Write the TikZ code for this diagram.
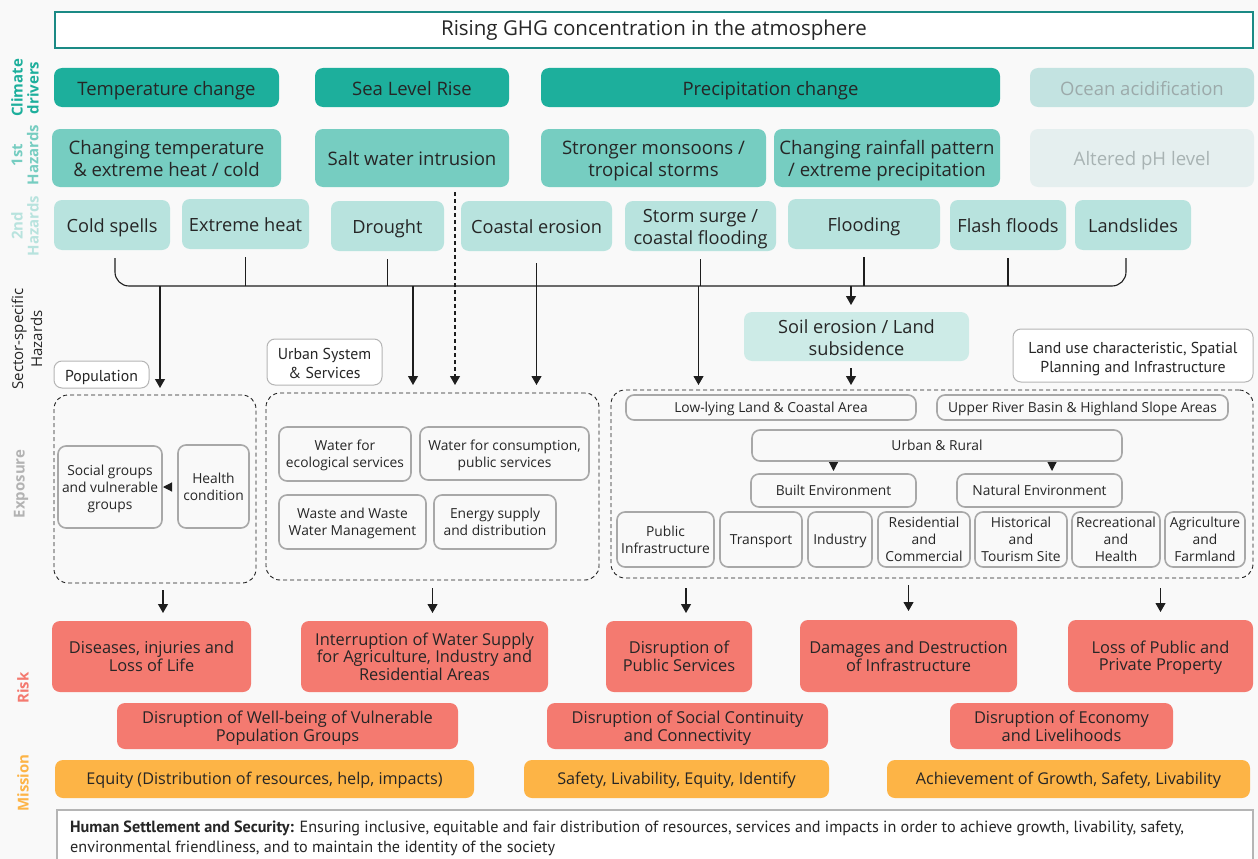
\documentclass[tikz,border=0pt]{standalone}
\usepackage{fontspec}
\setmainfont{Open Sans}
\newfontfamily\condf{PT Sans}
\usetikzlibrary{arrows.meta,calc}
\definecolor{bgc}{HTML}{F9F9F9}
\definecolor{txt}{HTML}{262626}
\definecolor{drv}{HTML}{1DAF9C}
\definecolor{hza}{HTML}{76CDC1}
\definecolor{hzb}{HTML}{B8E3DE}
\definecolor{soilc}{HTML}{CDEBE7}
\definecolor{ocean}{HTML}{C3E3E1}
\definecolor{oceantxt}{HTML}{9CAAAA}
\definecolor{phc}{HTML}{E5EFEF}
\definecolor{phtxt}{HTML}{A8B3B3}
\definecolor{titleb}{HTML}{1B8A85}
\definecolor{riskc}{HTML}{F47A70}
\definecolor{misc}{HTML}{FDB446}
\definecolor{inbd}{HTML}{A8A8A8}
\definecolor{lblbd}{HTML}{B5B5B5}
\definecolor{expc}{HTML}{B3B3B3}
\definecolor{linec}{HTML}{1E1E1E}
\newcommand\bxraise{0pt}
\newcommand\bx[7]{\node[#2, minimum width={(#5)-(#3)}, minimum height={(#6)-(#4)}] (#1) at ({((#3)+(#5))/2},{((#4)+(#6))/2}) {\raisebox{-\bxraise}[\height][\depth]{\begin{tabular}{@{}c@{}}#7\end{tabular}}};}
\begin{document}
\begin{tikzpicture}[x=1pt,y=-1pt,
  base/.style={rounded corners=8pt, inner sep=0pt, outer sep=0pt, text=txt},
  drvbox/.style={base, fill=drv, font=\fontsize{18.5}{22}\selectfont\def\bxraise{3.5pt}},
  hzabox/.style={base, fill=hza, font=\fontsize{18.6}{22}\selectfont\def\bxraise{3.5pt}},
  hzbbox/.style={base, fill=hzb, font=\fontsize{18.2}{22}\selectfont\def\bxraise{3.5pt}},
  lblbox/.style={base, draw=lblbd, line width=1pt, fill=white, font=\condf\fontsize{15.8}{19}\selectfont\def\bxraise{3.5pt}},
  inbox/.style={base, draw=inbd, line width=1.6pt, fill=bgc, font=\fontsize{13.8}{17}\selectfont\def\bxraise{2pt}},
  grpbox/.style={inner sep=0pt, outer sep=0pt, draw=linec, line width=0.9pt, dash pattern=on 4pt off 3pt, rounded corners=14pt},
  riskbox/.style={base, fill=riskc, font=\fontsize{16.4}{17.2}\selectfont\def\bxraise{2.5pt}},
  misbox/.style={base, fill=misc, font=\fontsize{16.2}{18}\selectfont\def\bxraise{2pt}},
  side/.style={rotate=90, align=center, font=\bfseries\fontsize{15}{16}\selectfont},
  conn/.style={draw=linec, line width=1.1pt},
  arr/.style={conn, -{Triangle[length=9pt,width=10pt]}},
  tri/.style={conn, -{Triangle[length=9pt,width=9pt]}}
]
\useasboundingbox (0,0) rectangle (1258,859);
\clip (0,0) rectangle (1258,859);
\fill[bgc] (0,0) rectangle (1258,859);

% title
\bx{title}{base, rounded corners=0pt, draw=titleb, line width=2pt, fill=white, font=\fontsize{20.5}{24}\selectfont\def\bxraise{1pt}}{55}{12}{1253}{48}{Rising GHG concentration in the atmosphere}

% side labels
\node[side, text=drv] (sl1) at (25,88) {Climate\\drivers};
\node[side, text=hza] (sl2) at (25,155) {1st\\Hazards};
\node[side, text=hzb] (sl3) at (25,226) {2nd\\Hazards};
\node[side, font=\fontsize{15}{19}\selectfont, text=txt] (sl4) at (27,339) {Sector-specific\\Hazards};
\node[side, text=expc] (sl5) at (21,484) {Exposure};
\node[side, text=riskc] (sl6) at (23,688) {Risk};
\node[side, text=misc] (sl7) at (23,783) {Mission};

% climate drivers
\bx{d1}{drvbox}{54}{68}{279}{107}{Temperature change}
\bx{d2}{drvbox}{315}{68}{509}{107}{Sea Level Rise}
\bx{d3}{drvbox}{541}{68}{1000}{107}{Precipitation change}
\bx{d4}{drvbox, fill=ocean, text=oceantxt}{1030}{68}{1254}{107}{Ocean acidification}

% 1st hazards
\bx{h1}{hzabox}{52}{129}{281}{187}{Changing temperature\\\& extreme heat / cold}
\bx{h2}{hzabox}{315}{129}{509}{187}{Salt water intrusion}
\bx{h3}{hzabox}{541}{129}{766}{187}{Stronger monsoons /\\tropical storms}
\bx{h4}{hzabox}{774}{129}{1000}{187}{Changing rainfall pattern\\/ extreme precipitation}
\bx{h5}{hzabox, fill=phc, text=phtxt}{1030}{129}{1254}{187}{Altered pH level}

% 2nd hazards
\bx{s1}{hzbbox}{54}{200}{170}{250}{Cold spells}
\bx{s2}{hzbbox}{182}{199}{309}{249}{Extreme heat}
\bx{s3}{hzbbox}{331}{201}{444}{251}{Drought}
\bx{s4}{hzbbox}{461}{201}{612}{251}{Coastal erosion}
\bx{s5}{hzbbox}{625}{201}{776}{251}{Storm surge /\\coastal flooding}
\bx{s6}{hzbbox}{788}{199}{940}{249}{Flooding}
\bx{s7}{hzbbox}{950}{200}{1066}{250}{Flash floods}
\bx{s8}{hzbbox}{1075}{200}{1191}{250}{Landslides}

% soil erosion
\bx{so}{hzbbox, fill=soilc}{744}{312}{969}{361}{Soil erosion / Land\\subsidence}

% group labels
\bx{pop}{lblbox}{54}{361}{149}{388}{Population}
\bx{urb}{lblbox}{267}{339}{382}{385}{Urban System\\\& Services}
\bx{lnd}{lblbox}{1013}{329}{1253}{382}{Land use characteristic, Spatial\\Planning and Infrastructure}

% exposure groups
\bx{e1}{grpbox}{54}{395}{256}{583}{}
\bx{e2}{grpbox}{266}{393}{599}{580}{}
\bx{e3}{grpbox}{611}{390}{1253}{578}{}

% population inner
\bx{p1}{inbox}{58}{446}{162}{528}{Social groups\\and vulnerable\\groups}
\bx{p2}{inbox}{178}{445}{249}{528}{Health\\condition}

% urban inner
\bx{u1}{inbox}{279}{427}{411}{481}{Water for\\ecological services}
\bx{u2}{inbox}{420}{427}{589}{480}{Water for consumption,\\public services}
\bx{u3}{inbox}{279}{495}{426}{549}{Waste and Waste\\Water Management}
\bx{u4}{inbox}{434}{495}{556}{549}{Energy supply\\and distribution}

% land inner
\bx{l1}{inbox}{626}{395}{916}{420}{Low-lying Land \& Coastal Area}
\bx{l2}{inbox}{937}{395}{1228}{420}{Upper River Basin \& Highland Slope Areas}
\bx{l3}{inbox}{752}{430}{1122}{461}{Urban \& Rural}
\bx{l4}{inbox}{751}{474}{916}{507}{Built Environment}
\bx{l5}{inbox}{957}{474}{1122}{507}{Natural Environment}
\bx{b1}{inbox}{617}{512}{714}{567}{Public\\Infrastructure}
\bx{b2}{inbox}{720}{512}{802}{567}{Transport}
\bx{b3}{inbox}{808}{512}{872}{567}{Industry}
\bx{b4}{inbox}{878}{512}{970}{567}{Residential\\and\\Commercial}
\bx{b5}{inbox}{975}{512}{1067}{567}{Historical\\and\\Tourism Site}
\bx{b6}{inbox}{1072}{512}{1160}{567}{Recreational\\and\\Health}
\bx{b7}{inbox}{1165}{512}{1245}{567}{Agriculture\\and\\Farmland}

% risk
\bx{r1}{riskbox}{52}{621}{251}{692}{Diseases, injuries and\\Loss of Life}
\bx{r2}{riskbox}{301}{621}{548}{692}{Interruption of Water Supply\\for Agriculture, Industry and\\Residential Areas}
\bx{r3}{riskbox}{606}{621}{752}{692}{Disruption of\\Public Services}
\bx{r4}{riskbox}{800}{620}{1017}{692}{Damages and Destruction\\of Infrastructure}
\bx{r5}{riskbox}{1068}{620}{1253}{692}{Loss of Public and\\Private Property}
\bx{q1}{riskbox}{117}{703}{458}{749}{Disruption of Well-being of Vulnerable\\Population Groups}
\bx{q2}{riskbox}{547}{703}{828}{749}{Disruption of Social Continuity\\and Connectivity}
\bx{q3}{riskbox}{950}{703}{1173}{749}{Disruption of Economy\\and Livelihoods}

% mission
\bx{m1}{misbox}{55}{760}{474}{798}{Equity (Distribution of resources, help, impacts)}
\bx{m2}{misbox}{524}{760}{829}{798}{Safety, Livability, Equity, Identify}
\bx{m3}{misbox}{887}{760}{1250}{798}{Achievement of Growth, Safety, Livability}

% bottom statement
\bx{hs}{base, rounded corners=0pt, draw=lblbd, line width=2pt, fill=white}{57}{810}{1253}{866}{}
\node[anchor=north west, inner sep=0pt, align=left, text=txt, font=\condf\fontsize{16.2}{20}\selectfont] (hstxt) at (70,821)
  {\textbf{Human Settlement and Security:} Ensuring inclusive, equitable and fair distribution of resources, services and impacts in order to achieve growth, livability, safety,\\environmental friendliness, and to maintain the identity of the society};

% ---- connectors ----
\coordinate (bus) at (640,286);
\coordinate (ax1) at (160,0);
\coordinate (ax3) at (455,0);
\coordinate (ax6) at (851,0);
\coordinate (ax7) at (163,0);
\coordinate (ax8) at (686,0);
\coordinate (ax9) at (1052,0);
\coordinate (ax2) at (413,0);

\draw[conn, rounded corners=14pt] ([xshift=3pt,yshift=-8pt]s1.south) |- (bus) -| ([xshift=-7pt,yshift=-8pt]s8.south);
\foreach \n in {s2,s3,s5,s6,s7}{\draw[conn] ([yshift=-8pt]\n.south) -- (\n.south |- bus);}

\draw[arr] (ax1 |- bus) -- ([yshift=7pt]ax1 |- e1.north);
\draw[arr] (ax2 |- bus) -- ([yshift=8pt]ax2 |- e2.north);
\draw[arr, dash pattern=on 4pt off 3pt] ([yshift=-5pt]ax3 |- h2.south) -- ([yshift=8pt]ax3 |- e2.north);
\draw[arr] ([yshift=-12pt]s4.south) -- ([yshift=8pt]s4.south |- e2.north);
\draw[arr] ([xshift=-2pt]s5.south |- bus) -- ([xshift=-2pt,yshift=5pt]s5.south |- e3.north);
\draw[arr] (ax6 |- bus) -- ([yshift=7pt]ax6 |- so.north);
\draw[arr] ([yshift=-7pt]ax6 |- so.south) -- ([yshift=5pt]ax6 |- e3.north);

\draw[tri] ([xshift=9pt]p1.east) -- ([xshift=1pt]p1.east);
\draw[tri] ([yshift=-1pt]l3.south -| l4.north) -- ([yshift=3pt]l4.north);
\draw[tri] ([yshift=-1pt]ax9 |- l3.south) -- ([yshift=3pt]ax9 |- l5.north);

\draw[arr] ([yshift=-7pt]ax7 |- e1.south) -- ([yshift=8pt]ax7 |- r1.north);
\draw[arr] ([yshift=-8pt]e2.south) -- ([yshift=8pt]e2.south |- r2.north);
\draw[arr] ([yshift=-10pt]ax8 |- e3.south) -- ([yshift=8pt]ax8 |- r3.north);
\draw[arr] ([yshift=-7pt]r4.north |- e3.south) -- ([yshift=9pt]r4.north);
\draw[arr] ([yshift=-10pt]r5.north |- e3.south) -- ([yshift=8pt]r5.north);
\end{tikzpicture}
\end{document}
